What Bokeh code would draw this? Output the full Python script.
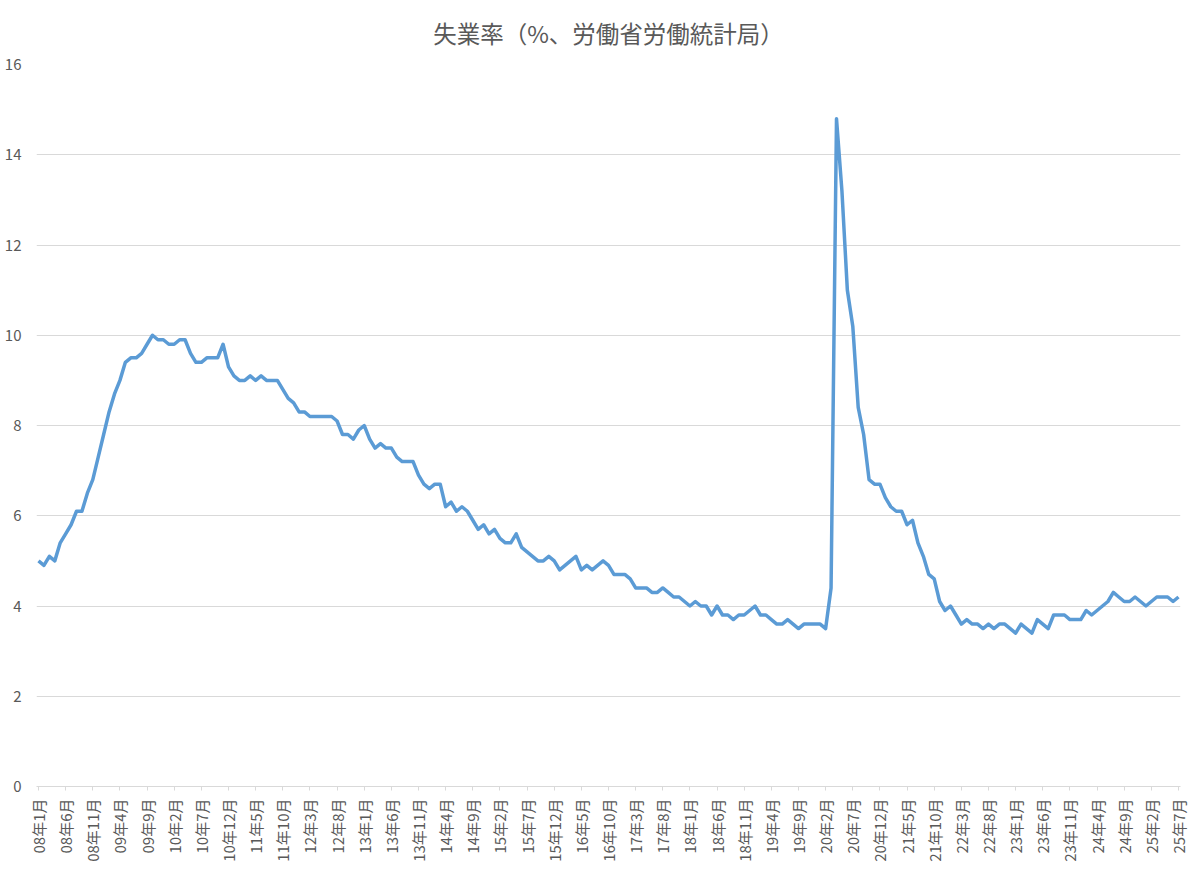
import math
from bokeh.plotting import figure
from bokeh.models import FixedTicker, ColumnDataSource, Title
from bokeh.embed import file_html
from bokeh.resources import INLINE

title_text = "失業率（%、労働省労働統計局）"

# Monthly unemployment rate (%), Jan 2008 - Jul 2025
y2008 = [5.0, 4.9, 5.1, 5.0, 5.4, 5.6, 5.8, 6.1, 6.1, 6.5, 6.8, 7.3]
y2009 = [7.8, 8.3, 8.7, 9.0, 9.4, 9.5, 9.5, 9.6, 9.8, 10.0, 9.9, 9.9]
y2010 = [9.8, 9.8, 9.9, 9.9, 9.6, 9.4, 9.4, 9.5, 9.5, 9.5, 9.8, 9.3]
y2011 = [9.1, 9.0, 9.0, 9.1, 9.0, 9.1, 9.0, 9.0, 9.0, 8.8, 8.6, 8.5]
y2012 = [8.3, 8.3, 8.2, 8.2, 8.2, 8.2, 8.2, 8.1, 7.8, 7.8, 7.7, 7.9]
y2013 = [8.0, 7.7, 7.5, 7.6, 7.5, 7.5, 7.3, 7.2, 7.2, 7.2, 6.9, 6.7]
y2014 = [6.6, 6.7, 6.7, 6.2, 6.3, 6.1, 6.2, 6.1, 5.9, 5.7, 5.8, 5.6]
y2015 = [5.7, 5.5, 5.4, 5.4, 5.6, 5.3, 5.2, 5.1, 5.0, 5.0, 5.1, 5.0]
y2016 = [4.8, 4.9, 5.0, 5.1, 4.8, 4.9, 4.8, 4.9, 5.0, 4.9, 4.7, 4.7]
y2017 = [4.7, 4.6, 4.4, 4.4, 4.4, 4.3, 4.3, 4.4, 4.3, 4.2, 4.2, 4.1]
y2018 = [4.0, 4.1, 4.0, 4.0, 3.8, 4.0, 3.8, 3.8, 3.7, 3.8, 3.8, 3.9]
y2019 = [4.0, 3.8, 3.8, 3.7, 3.6, 3.6, 3.7, 3.6, 3.5, 3.6, 3.6, 3.6]
y2020 = [3.6, 3.5, 4.4, 14.8, 13.2, 11.0, 10.2, 8.4, 7.8, 6.8, 6.7, 6.7]
y2021 = [6.4, 6.2, 6.1, 6.1, 5.8, 5.9, 5.4, 5.1, 4.7, 4.6, 4.1, 3.9]
y2022 = [4.0, 3.8, 3.6, 3.7, 3.6, 3.6, 3.5, 3.6, 3.5, 3.6, 3.6, 3.5]
y2023 = [3.4, 3.6, 3.5, 3.4, 3.7, 3.6, 3.5, 3.8, 3.8, 3.8, 3.7, 3.7]
y2024 = [3.7, 3.9, 3.8, 3.9, 4.0, 4.1, 4.3, 4.2, 4.1, 4.1, 4.2, 4.1]
y2025 = [4.0, 4.1, 4.2, 4.2, 4.2, 4.1, 4.2]

yearly = [y2008, y2009, y2010, y2011, y2012, y2013, y2014, y2015, y2016,
          y2017, y2018, y2019, y2020, y2021, y2022, y2023, y2024, y2025]
start_year = 2008

rates = []
month_labels = []
for k, arr in enumerate(yearly):
    yy = (start_year + k) % 100
    for m, v in enumerate(arr):
        rates.append(v)
        month_labels.append(f"{yy:02d}年{m + 1}月")

label_step = 5
y_ticks = [0, 2, 4, 6, 8, 10, 12, 14, 16]

idx = list(range(len(rates)))
src = ColumnDataSource(dict(x=idx, y=rates))

TEXT = "#595959"
GRID = "#D9D9D9"
CJK = "Noto Sans CJK JP"

n = len(rates)
pad = 0.37
p = figure(width=1200, height=869, output_backend="svg", toolbar_location=None,
           x_range=(-pad, n - 1 + pad), y_range=(y_ticks[0], y_ticks[-1]),
           min_border_left=36, min_border_right=20, min_border_top=64,
           min_border_bottom=83)
p.title = Title(text=title_text, align="center", offset=-8,
                vertical_align="top",
                text_font=CJK, text_font_size="23.5px", text_color=TEXT,
                text_font_style="normal", standoff=26)
p.outline_line_color = None
p.background_fill_color = "white"
p.border_fill_color = "white"

p.line("x", "y", source=src, line_color="#5B9BD5", line_width=3.5,
       line_join="round")

xt = list(range(0, n, label_step))
p.xaxis.ticker = FixedTicker(ticks=xt)
p.xaxis.major_label_overrides = {i: month_labels[i] for i in xt}
p.xaxis.major_label_orientation = math.pi / 2
p.xaxis.major_label_text_font = CJK
p.xaxis.major_label_text_font_size = "15px"
p.xaxis.major_label_text_color = TEXT
p.xaxis.axis_line_color = GRID
p.xaxis.major_tick_line_color = GRID
p.xaxis.major_tick_out = 4
p.xaxis.major_tick_in = 0
p.xaxis.minor_tick_line_color = None
p.xaxis.major_label_standoff = 8

p.yaxis.ticker = FixedTicker(ticks=y_ticks)
p.yaxis.axis_line_color = None
p.yaxis.major_tick_line_color = None
p.yaxis.minor_tick_line_color = None
p.yaxis.major_label_text_font = CJK
p.yaxis.major_label_text_font_size = "15px"
p.yaxis.major_label_text_color = TEXT
p.yaxis.major_label_standoff = 9

p.xgrid.grid_line_color = None
p.ygrid.grid_line_color = GRID
p.ygrid.grid_line_width = 1

open("out.html", "w").write(file_html(p, INLINE))
